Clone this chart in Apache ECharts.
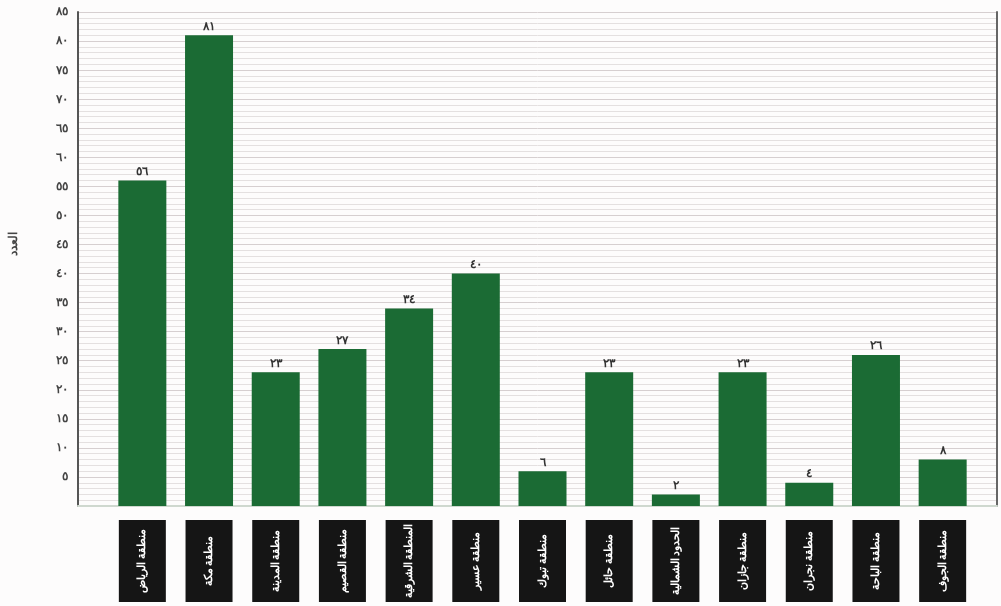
<!DOCTYPE html>
<html><head><meta charset="utf-8">
<script src="https://cdn.jsdelivr.net/npm/echarts@6/dist/echarts.min.js"></script>
<style>html,body{margin:0;padding:0;background:#fff}#c{width:1001px;height:606px}</style>
</head><body><div id="c"></div>
<script>
const categories = ["منطقة الرياض","منطقة مكة","منطقة المدينة","منطقة القصيم","المنطقة الشرقية","منطقة عسير","منطقة تبوك","منطقة حائل","الحدود الشمالية","منطقة جازان","منطقة نجران","منطقة الباحة","منطقة الجوف"];
const values = [56,81,23,27,34,40,6,23,2,23,4,26,8];
const yAxisName = "العدد";
const yMin = 0, yMax = 85, yStep = 5;

const digits = '٠١٢٣٤٥٦٧٨٩';
const toAr = n => String(n).replace(/[0-9]/g, d => digits[+d]);

const chart = echarts.init(document.getElementById('c'));
chart.setOption({
  backgroundColor: '#fdfcfc',
  animation: false,
  grid: [
    {left: 76, right: 4, top: 12, bottom: 100},
    {left: 109, right: 25, top: 12, bottom: 100}
  ],
  xAxis: [
    {gridIndex: 0, type: 'value', min: 0, max: 1, axisLabel: {show: false}, axisTick: {show: false}, splitLine: {show: false},
     axisLine: {show: true, lineStyle: {color: '#cfd8cf', width: 2}}},
    {gridIndex: 1, type: 'category', data: categories, axisLine: {show: false}, axisTick: {show: false},
     axisLabel: {interval: 0, rotate: 90, margin: 55, color: '#fff', fontFamily: 'Noto Sans', fontWeight: 'bold', fontSize: 11,
       backgroundColor: '#151515', width: 78, lineHeight: 47, padding: [0, 2], align: 'center', verticalAlign: 'middle', overflow: 'none'}}
  ],
  yAxis: [
    {gridIndex: 0, type: 'value', min: yMin, max: yMax, interval: yStep,
     name: yAxisName, nameLocation: 'middle', nameGap: 58, nameRotate: 90,
     nameTextStyle: {color: '#444', fontSize: 12, fontWeight: 'bold', fontFamily: 'Noto Sans', padding: [0, 0, 0, 30]},
     axisLine: {show: true, lineStyle: {color: '#555', width: 2}}, axisTick: {show: false},
     axisLabel: {color: '#444', fontWeight: 'bold', fontSize: 12, fontFamily: 'Noto Sans', margin: 10,
       formatter: v => v === 0 ? '' : toAr(v)},
     splitLine: {show: true, lineStyle: {color: '#d6cfd0', width: 1}},
     minorTick: {show: false, splitNumber: 5},
     minorSplitLine: {show: true, lineStyle: {color: '#e4e0e0', width: 1}}},
    {gridIndex: 0, type: 'value', position: 'right', min: yMin, max: yMax,
     axisLine: {show: true, lineStyle: {color: '#666', width: 2}}, axisTick: {show: false}, axisLabel: {show: false}, splitLine: {show: false}},
    {gridIndex: 1, type: 'value', min: yMin, max: yMax, show: false}
  ],
  series: [{
    type: 'bar', xAxisIndex: 1, yAxisIndex: 2, data: values, barWidth: 48,
    itemStyle: {color: '#1b6b34'},
    label: {show: true, position: 'top', distance: 3, color: '#333', fontWeight: 'bold', fontSize: 12, fontFamily: 'Noto Sans',
      formatter: p => toAr(p.value)}
  }]
});
</script></body></html>
